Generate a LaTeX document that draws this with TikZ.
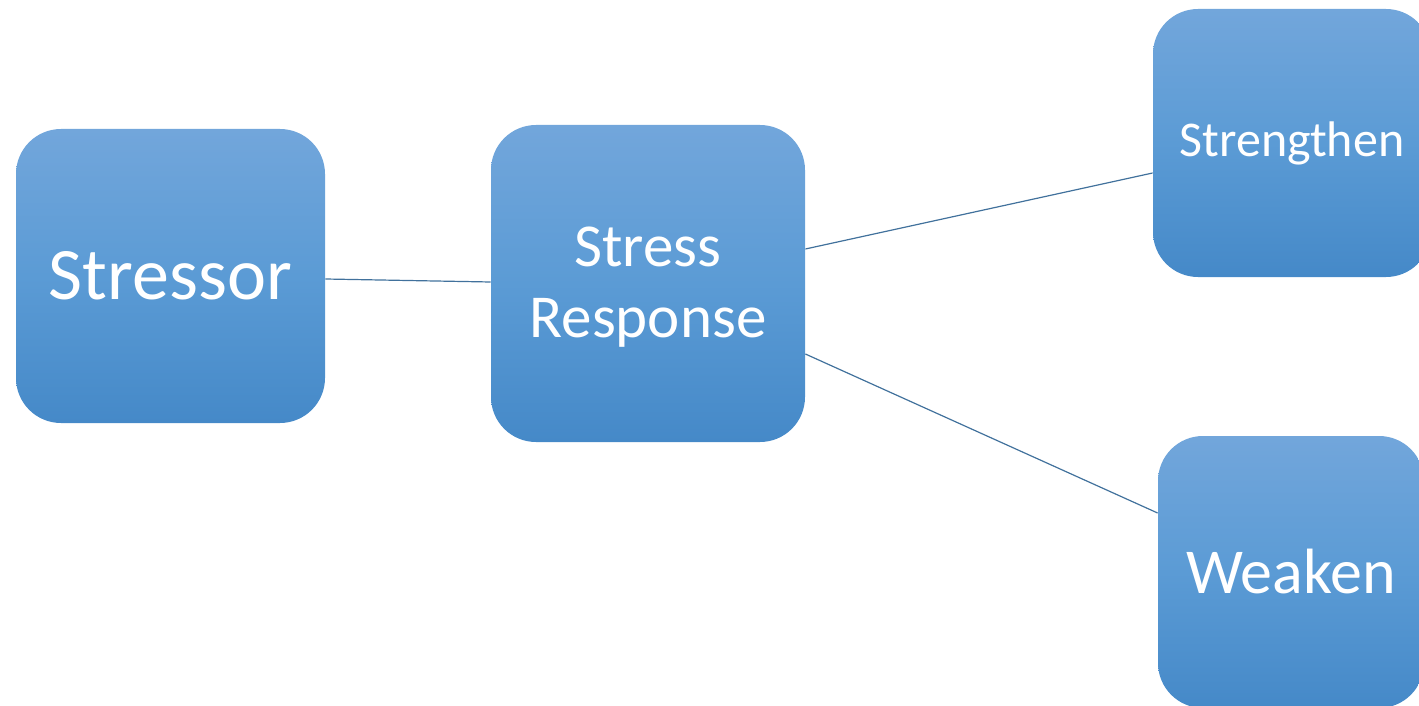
\documentclass[tikz,border=0pt]{standalone}
\usepackage{fontspec}
\setmainfont{Carlito}
\definecolor{boxtop}{RGB}{114,166,219}
\definecolor{boxmid}{RGB}{91,155,213}
\definecolor{boxbot}{RGB}{69,137,200}
\definecolor{linkblue}{RGB}{65,113,156}
\begin{document}
\begin{tikzpicture}[x=0.5pt,y=-0.5pt,
        blockbox/.style={rectangle,rounded corners=22.5pt,top color=boxtop,bottom color=boxbot,middle color=boxmid,text=white,align=center,inner sep=0pt},
        link/.style={draw=linkblue,line width=0.6pt}]
        \useasboundingbox (0,0) rectangle (1419,706);
        \clip (0,0) rectangle (1419,706);
        \node[blockbox,minimum width=154.5pt,minimum height=147pt,font=\fontsize{37}{44}\selectfont] (stressor) at (170.5,276) {Stressor};
        \node[blockbox,minimum width=157pt,minimum height=158.5pt,text depth=1pt,font=\fontsize{30.5}{35.5}\selectfont] (response) at (648,283.5) {Stress\\Response};
        \node[blockbox,minimum width=139pt,minimum height=134pt,font=\fontsize{25}{30}\selectfont] (strengthen) at (1292,143) {Strengthen};
        \node[blockbox,minimum width=133pt,minimum height=136pt,font=\fontsize{32}{38}\selectfont] (weaken) at (1291,572) {Weaken};
        \path[link] ([yshift=-1.5pt]stressor.east) -- ([yshift=0.75pt]response.west);
        \path[link] ([yshift=17.25pt]response.east) -- ([yshift=-15pt]strengthen.west);
        \path[link] ([yshift=-35.25pt]response.east) -- ([yshift=29.5pt]weaken.west);
    \end{tikzpicture}
\end{document}
